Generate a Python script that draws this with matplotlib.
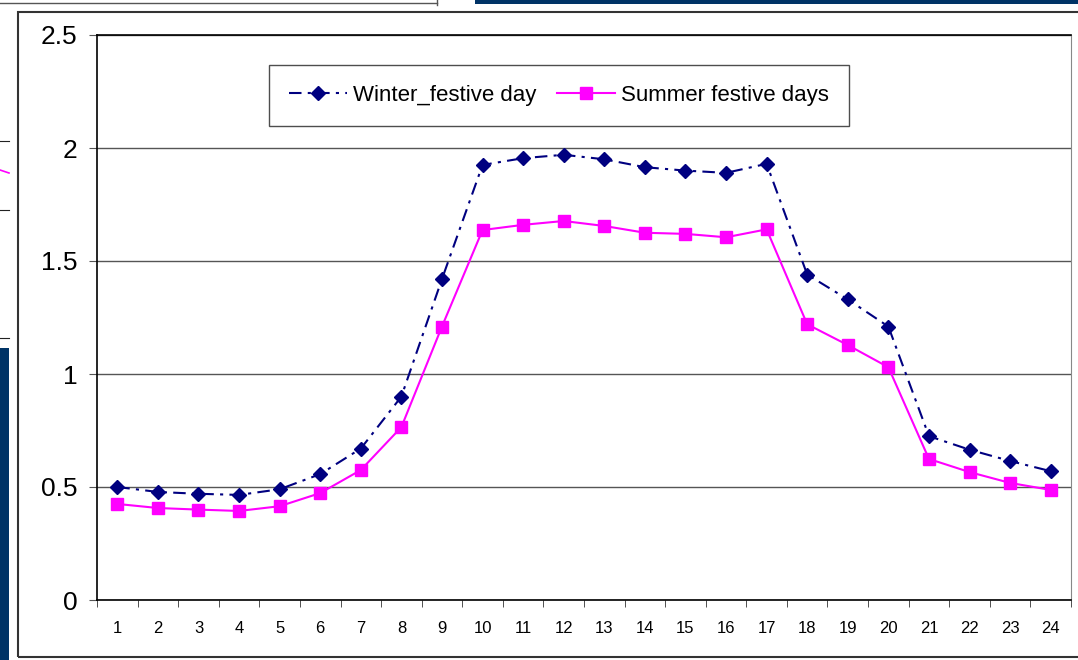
import matplotlib.pyplot as plt
from matplotlib.patches import Rectangle
from matplotlib.lines import Line2D

plt.rcParams['font.family'] = ['Liberation Sans', 'DejaVu Sans']

hours = list(range(1, 25))
hour_labels = [str(h) for h in hours]

winter_festive = [0.50, 0.478, 0.47, 0.465, 0.49, 0.557, 0.67, 0.90, 1.42, 1.925,
                  1.955, 1.97, 1.95, 1.915, 1.90, 1.89, 1.93, 1.44, 1.33, 1.21,
                  0.725, 0.665, 0.615, 0.57]
summer_festive = [0.425, 0.407, 0.40, 0.394, 0.415, 0.473, 0.575, 0.765, 1.21, 1.637,
                  1.66, 1.677, 1.655, 1.625, 1.62, 1.605, 1.64, 1.22, 1.128, 1.03,
                  0.624, 0.566, 0.518, 0.487]

W, H = 1078, 660
fig = plt.figure(figsize=(W / 100, H / 100), dpi=100)

# frame of the chart object and bits of the slide around it
def px_rect(x0, y0, x1, y1, **kw):
    fig.patches.append(Rectangle((x0 / W, 1 - y1 / H), (x1 - x0) / W, (y1 - y0) / H,
                                 transform=fig.transFigure, **kw))

def px_line(x0, y0, x1, y1, **kw):
    fig.lines.append(Line2D([x0 / W, x1 / W], [1 - y0 / H, 1 - y1 / H],
                            transform=fig.transFigure, **kw))

px_rect(18, 12, 1090, 657, fill=False, edgecolor='#333333', linewidth=1.5)
px_rect(475, 0, 1078, 3.5, color='#003366', linewidth=0)
px_rect(0, 348, 9, 660, color='#003366', linewidth=0)
px_line(0, 3, 437, 3, color='#555555', linewidth=1)
px_line(437, 0, 437, 5, color='#555555', linewidth=1)
for yy in (141, 210, 338):
    px_line(0, yy, 9, yy, color='#222222', linewidth=0.8)
px_line(0, 170, 9, 173, color='magenta', linewidth=1.2)

ax = fig.add_axes([97 / W, 1 - 600 / H, (1071 - 97) / W, (600 - 35) / H])
x = range(len(hours))
ax.plot(x, winter_festive, color='#000080', linestyle=(0, (6, 3, 1.5, 3)), linewidth=1.5,
        marker='D', markersize=7, label='Winter_festive day')
ax.plot(x, summer_festive, color='#ff00ff', linestyle='-', linewidth=1.5,
        marker='s', markersize=9, label='Summer festive days')

ax.set_xlim(-0.5, len(hours) - 0.5)
ax.set_ylim(0, 2.5)
ax.set_yticks([0, 0.5, 1, 1.5, 2, 2.5])
ax.set_yticklabels(['0', '0.5', '1', '1.5', '2', '2.5'], fontsize=19)
ax.set_xticks(x)
ax.set_xticklabels(hour_labels, fontsize=12)
ax.set_xticks([i - 0.5 for i in range(len(hours) + 1)], minor=True)
ax.tick_params(axis='x', which='major', length=0, pad=15)
ax.tick_params(axis='x', which='minor', length=5, direction='out', color='#333333')
ax.tick_params(axis='y', length=6, direction='out', color='#555555', pad=8)
ax.yaxis.grid(True, color='#555555', linewidth=1)
ax.set_axisbelow(True)
for side in ('left', 'bottom', 'top'):
    ax.spines[side].set_color('black')
    ax.spines[side].set_linewidth(1.2)
ax.spines['right'].set_color('#888888')

leg = ax.legend(loc='upper left', bbox_to_anchor=((269 - 97) / (1071 - 97), (600 - 65) / 565),
                ncol=2, fontsize=16, frameon=True, fancybox=False, handlelength=2.6,
                columnspacing=0.9, handletextpad=0.3, borderpad=0.9, borderaxespad=0)
leg.get_frame().set_edgecolor('#222222')
leg.get_frame().set_linewidth(1)

fig.savefig('out.png', dpi=100)
